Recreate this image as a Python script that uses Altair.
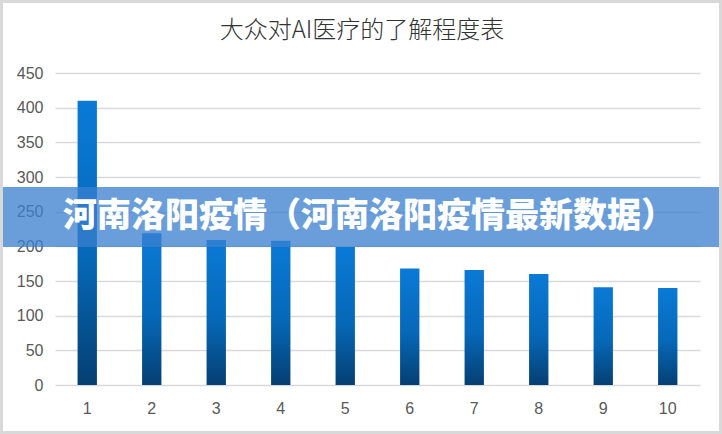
import altair as alt
import pandas as pd

categories = ["1", "2", "3", "4", "5", "6", "7", "8", "9", "10"]
values = [410, 219, 209, 208, 199, 168, 166, 160, 141, 140]
title_text = ["大众对AI医疗的了解程度表"]
banner_text = ["河南洛阳疫情（河南洛阳疫情最新数据）"]
y_ticks = [0, 50, 100, 150, 200, 250, 300, 350, 400, 450]

W, H = 645, 312
PL, PT, PR, PB = 55, 73, 22, 49

df = pd.DataFrame({"cat": categories, "val": values})

grad = alt.LinearGradient(
    gradient="linear",
    x1=0, y1=0, x2=0, y2=1,
    stops=[
        alt.GradientStop(color="#0a7ad6", offset=0),
        alt.GradientStop(color="#0668b8", offset=0.55),
        alt.GradientStop(color="#053f72", offset=1),
    ],
)

label_font = "Liberation Sans Narrow, Liberation Sans, sans-serif"

bars = alt.Chart(df).mark_bar(color=grad).encode(
    x=alt.X("cat:N", sort=categories,
            scale=alt.Scale(paddingInner=0.7, paddingOuter=0.35),
            axis=alt.Axis(title=None, labelAngle=0, ticks=False, domain=False,
                          labelFontSize=16, labelColor="#595959", labelFont=label_font,
                          labelPadding=15, grid=False)),
    y=alt.Y("val:Q", scale=alt.Scale(domain=[0, 450], nice=False),
            axis=alt.Axis(title=None, values=y_ticks, ticks=False, domain=False,
                          labelFontSize=16, labelColor="#595959", labelFont=label_font,
                          labelPadding=12, gridColor="#d9d9d9", gridWidth=1.5)),
)

title = alt.Chart(pd.DataFrame({"t": title_text})).mark_text(
    font="Noto Sans CJK SC", fontSize=24, fontWeight=300, color="#333333",
    align="center", baseline="middle",
).encode(text="t:N", x=alt.value(362 - PL), y=alt.value(31 - PT))

banner = alt.Chart(pd.DataFrame({"t": banner_text})).mark_rect(
    color="#3a80d0", opacity=0.76,
).encode(x=alt.value(-PL), x2=alt.value(722 - PL), y=alt.value(187 - PT), y2=alt.value(247 - PT))

banner_label = alt.Chart(pd.DataFrame({"t": banner_text})).mark_text(
    font="Noto Sans CJK SC", fontSize=34, fontWeight=900, color="white",
    align="left", baseline="middle",
).encode(text="t:N", x=alt.value(63 - PL), y=alt.value(217 - PT))

border = alt.Chart(pd.DataFrame({"t": [""]})).mark_rect(
    fill=None, stroke="#d9d9d9", strokeWidth=3,
).encode(x=alt.value(-PL + 1.5), x2=alt.value(722 - PL - 1.5),
         y=alt.value(-PT + 1.5), y2=alt.value(434 - PT - 1.5))

chart = alt.layer(bars, title, banner, banner_label, border).properties(
    width=W, height=H,
    padding={"left": PL, "top": PT, "right": PR, "bottom": PB},
    autosize=alt.AutoSizeParams(type="none"),
    background="white",
).configure_view(stroke=None)

chart.save("out.html", embed_options={"renderer": "svg", "actions": False})
